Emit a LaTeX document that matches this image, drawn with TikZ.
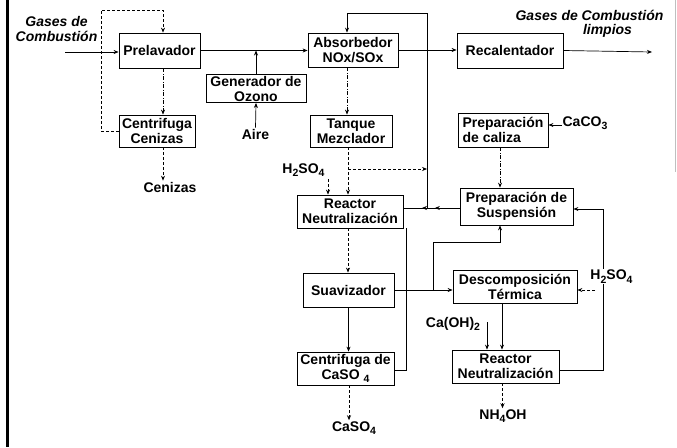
\documentclass[tikz,border=0pt]{standalone}
\usepackage{fontspec}
\setmainfont{Liberation Sans}
\usetikzlibrary{arrows.meta,decorations.markings}
% lowered, smaller index for chemical formulas
\newcommand\chsub[1]{\raisebox{-0.45ex}{\fontsize{10.5}{10.5}\selectfont #1}}
\begin{document}
\begin{tikzpicture}[x=1pt,y=-1pt,
  font=\fontsize{14}{15}\selectfont\bfseries,
  >={Stealth[length=5pt,width=4pt]},
  flow/.style={line width=0.7pt},
  dashflow/.style={line width=0.7pt, dash pattern=on 3pt off 2pt},
  dotflow/.style={line width=0.7pt, dash pattern=on 4pt off 1.5pt on 1pt off 1.5pt},
  proc/.style={draw, line width=0.8pt, inner sep=1pt, align=center},
  lbl/.style={inner sep=1pt, align=center},
  twoarrows/.style={postaction={decorate},
    decoration={markings,
      mark=at position 0.44 with {\arrow{Stealth[length=5pt,width=4pt]}},
      mark=at position 0.67 with {\arrow{Stealth[length=5pt,width=4pt]}}}},
]
\useasboundingbox (0,0) rectangle (677,447);

% page edges
\draw[line width=3pt] (7,0) -- (7,447);
\draw[black!25, line width=1pt] (675.5,0) -- (675.5,172);

% process units
\node[proc, minimum width=81, minimum height=35] (prel) at (159.5,50.5) {Prelavador};
\node[proc, minimum width=76, minimum height=32] (cen) at (157,131) {Centrifuga\\Cenizas};
\node[proc, minimum width=100, minimum height=28] (gen) at (256,88.5) {Generador de\\Ozono};
\node[proc, minimum width=90, minimum height=34] (abs) at (353,50) {Absorbedor\\NOx/SOx};
\node[proc, minimum width=106, minimum height=35] (rec) at (510,50.5) {Recalentador};
\node[proc, minimum width=82, minimum height=32] (tan) at (351,131) {Tanque\\Mezclador};
\node[proc, minimum width=90, minimum height=34, align=left] (cal) at (503,130) {Preparación\\de caliza};
\node[proc, minimum width=106, minimum height=33] (reac1) at (350,211.5) {Reactor\\Neutralización};
\node[proc, minimum width=113, minimum height=37] (susp) at (516.5,206.5) {Preparación de\\Suspensión};
\node[proc, minimum width=91, minimum height=34] (suav) at (348.5,290) {Suavizador};
\node[proc, minimum width=124, minimum height=33] (desc) at (515,286.5) {Descomposición\\Térmica};
\node[proc, minimum width=97, minimum height=33] (cent2) at (345.5,368.5) {Centrifuga de\\CaSO\ \chsub{4}};
\node[proc, minimum width=107, minimum height=33] (reac2) at (505.5,366.5) {Reactor\\Neutralización};

% stream labels
\node[lbl, font=\fontsize{14}{15}\selectfont\bfseries\itshape] (gin) at (56.5,29) {Gases de\\Combustión};
\node[lbl, font=\fontsize{14}{14}\selectfont\bfseries\itshape] (gout) at (589.5,24) {Gases de Combustión\\\hspace*{36pt}limpios};
\node[lbl] (aire) at (255.5,134) {Aire};
\node[lbl] (ceniz) at (170,187) {Cenizas};
\node[lbl] (h2a) at (303.5,170) {H\chsub{2}SO\chsub{4}};
\node[lbl] (caco) at (585,123) {CaCO\chsub{3}};
\node[lbl] (caoh) at (453,324) {Ca(OH)\chsub{2}};
\node[lbl] (caso) at (354,428) {CaSO\chsub{4}};
\node[lbl] (nh) at (503,416) {NH\chsub{4}OH};

% routing points
\coordinate (feed) at (65,52);
\coordinate (loopL) at (101,10);
\coordinate (loopR) at (163,10);
\coordinate (rtop) at (427,13);
\coordinate (rjoin) at (427,208);
\coordinate (branch) at (348,169);
\coordinate (stack) at (652,52);
\coordinate (colA) at (500,0);
\coordinate (riseB) at (433,242);
\coordinate (retC) at (406,370);
\coordinate (rightD) at (603,370);
\coordinate (acidR) at (595,290);
\coordinate (limeIn) at (562,125);
\coordinate (ohTop) at (487,322);
\coordinate (h2aBot) at (328,179);

% gas line
\draw[flow,->] (feed) -- (feed -| prel.west);
\draw[flow,->] (prel.east) -- (prel.east -| abs.west);
\draw[flow,->] (gen.north) -- (gen.north |- prel.east);
\draw[flow,->] (aire.north) -- (gen.south);
\draw[flow,->] (abs.east) -- (abs.east -| rec.west);
\draw[flow,->] (rec.east) -- (stack);

% pre-washer circuit
\draw[dashflow,->] (cen.west) -| (loopL) -- (loopR) -- (loopR |- prel.north);
\draw[dotflow,->] (loopR |- prel.south) -- (loopR |- cen.north);
\draw[dashflow,->] (loopR |- cen.south) -- (loopR |- ceniz.north);

% absorber circuit
\draw[flow,->] (rjoin) -- (rtop) -| ([xshift=-6pt]abs.north);
\draw[dotflow,->] ([xshift=-6pt]abs.south) -- ([xshift=-6pt]abs.south |- tan.north);
\draw[dashflow,->] ([xshift=-3pt]tan.south) -- ([xshift=-3pt]tan.south |- reac1.north);
\draw[dashflow,->] (branch) -- (branch -| rtop);
\draw[dashflow,->] (h2aBot) -- (h2aBot |- reac1.north);
\draw[flow,twoarrows] (susp.west |- rjoin) -- (rjoin -| reac1.east);

% limestone slurry
\draw[flow,->] (limeIn) -- (limeIn -| cal.east);
\draw[dotflow,->] (colA |- cal.south) -- (colA |- susp.north);

% gypsum line
\draw[dashflow,->] ([xshift=-2pt]reac1.south) -- ([xshift=-2pt]reac1.south |- suav.north);
\draw[flow,->] (suav.south) -- (suav.south |- cent2.north);
\draw[dashflow,->] ([xshift=3.5pt]cent2.south) -- ([xshift=3.5pt]cent2.south |- caso.north);
\draw[flow] (cent2.east |- retC) -- (retC) -- (retC |- reac1.south);
\draw[flow,->] (suav.east) -- (suav.east -| desc.west);
\draw[flow,->] (riseB |- suav.east) -- (riseB) -| (colA |- susp.south);

% ammonia recovery
\draw[flow,->] ([xshift=-13pt]desc.south) -- ([xshift=-13pt]desc.south |- reac2.north);
\draw[flow,->] (ohTop) -- (ohTop |- reac2.north);
\draw[dashflow,->] ([xshift=-3pt]reac2.south) -- ([xshift=-3pt]reac2.south |- nh.north);
\draw[flow,->] (reac2.east |- rightD) -- (rightD) |- ([yshift=-2.5pt]susp.east);
\draw[dashflow,->] (acidR) -- (acidR -| desc.east);
\node[lbl, fill=white] (h2b) at (611.5,276.5) {H\chsub{2}SO\chsub{4}};
\end{tikzpicture}
\end{document}
